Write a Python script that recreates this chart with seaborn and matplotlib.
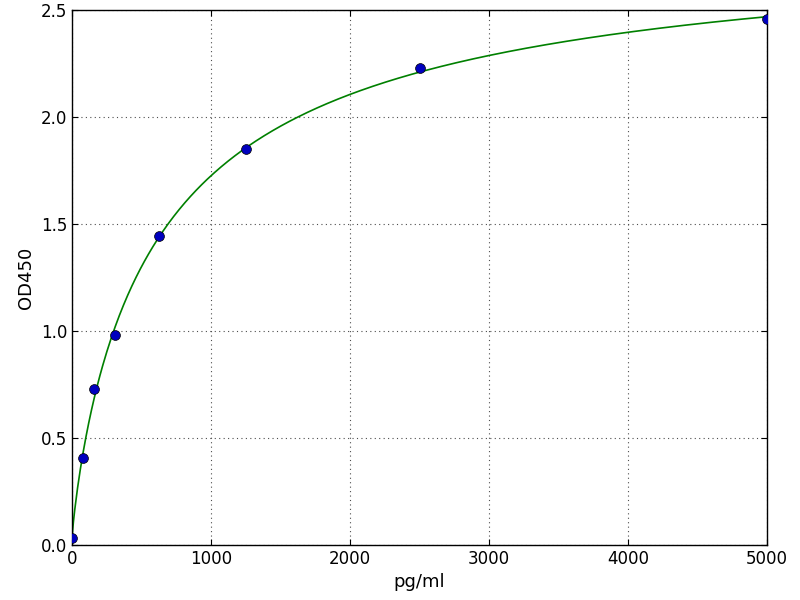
import numpy as np
import pandas as pd
import matplotlib
matplotlib.use("Agg")
import matplotlib.pyplot as plt
import seaborn as sns

# Standard concentrations and measured OD450 readings
conc = [0, 78.125, 156.25, 312.5, 625, 1250, 2500, 5000]
od450 = [0.033, 0.405, 0.727, 0.983, 1.444, 1.850, 2.230, 2.460]

x_ticks = [0, 1000, 2000, 3000, 4000, 5000]
y_ticks = [0.0, 0.5, 1.0, 1.5, 2.0, 2.5]

# Fit a 4-parameter logistic curve (grid over b, c; a and d by least squares)
x = np.array(conc, dtype=float)
y = np.array(od450)

def basis(xv, b, c):
    return 1.0 / (1.0 + (xv / c) ** b)

best = None
for b in np.linspace(0.5, 1.5, 101):
    for c in np.geomspace(100, 20000, 300):
        f = basis(x, b, c)
        A = np.column_stack([f, 1 - f])
        coef, *_ = np.linalg.lstsq(A, y, rcond=None)
        err = np.sum((A @ coef - y) ** 2)
        if best is None or err < best[0]:
            best = (err, b, c, coef)

_, b_fit, c_fit, (a_fit, d_fit) = best
x_curve = np.linspace(0, 5000, 500)
f_curve = basis(x_curve, b_fit, c_fit)
curve_df = pd.DataFrame({"pg/ml": x_curve, "OD450": a_fit * f_curve + d_fit * (1 - f_curve)})
points_df = pd.DataFrame({"pg/ml": conc, "OD450": od450})

sns.set_style("ticks")
plt.rcParams.update({
    "font.family": ["DejaVu Sans"],
    "xtick.direction": "in",
    "ytick.direction": "in",
    "xtick.top": True,
    "ytick.right": True,
    "xtick.major.size": 4,
    "ytick.major.size": 4,
    "text.color": "black",
    "axes.labelcolor": "black",
})

fig = plt.figure(figsize=(8, 6), dpi=100)
ax = fig.add_axes([0.09, 0.092, 0.869, 0.891])

sns.lineplot(data=curve_df, x="pg/ml", y="OD450", color=(0, 0.5, 0), linewidth=1.2, ax=ax)
sns.scatterplot(data=points_df, x="pg/ml", y="OD450", color=(0, 0, 0.75), edgecolor="black",
                linewidth=0.5, s=50, zorder=3, ax=ax)

ax.set_xlim(0, 5000)
ax.set_ylim(0, 2.5)
ax.set_xticks(x_ticks)
ax.set_yticks(y_ticks)
ax.set_yticklabels([f"{v:.1f}" for v in y_ticks])
ax.tick_params(labelsize=12, colors="black")
ax.grid(True, linestyle=(0, (1, 3)), color="0.3", linewidth=0.8)
ax.set_xlabel("pg/ml", fontsize=13, color="black")
ax.set_ylabel("OD450", fontsize=13, color="black")
for spine in ax.spines.values():
    spine.set_visible(True)
    spine.set_color("black")
    spine.set_linewidth(1.0)

fig.savefig("out.png", dpi=100)
plt.close(fig)
